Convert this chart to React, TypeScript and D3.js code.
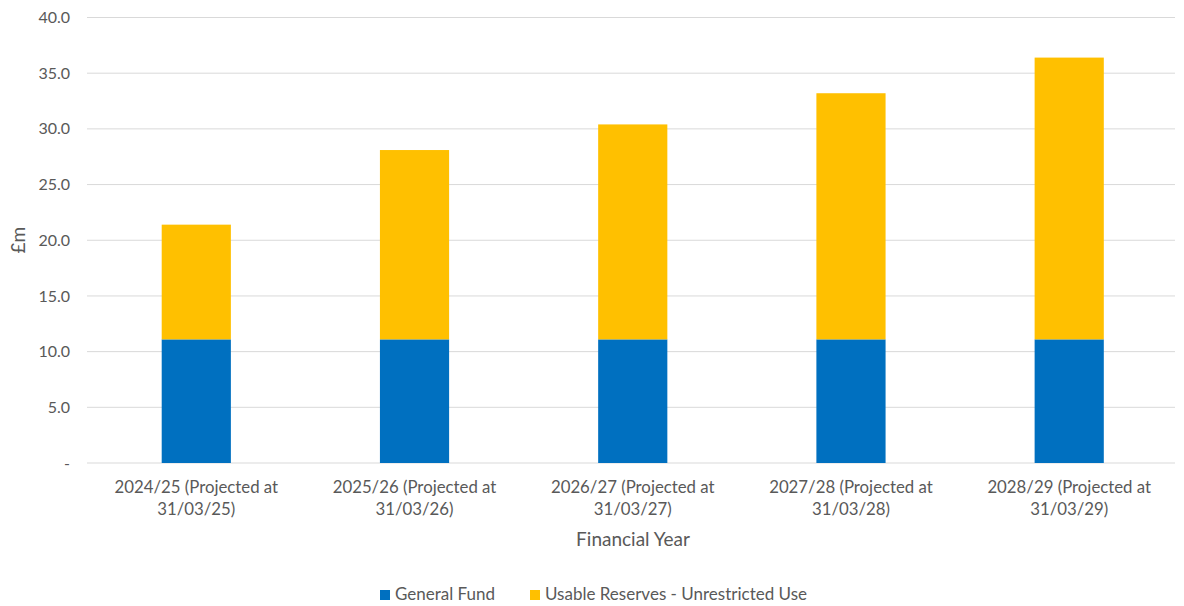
import React, { useEffect, useRef } from "react";
import * as d3 from "d3";

const categories = [
  ["2024/25 (Projected at", "31/03/25)"],
  ["2025/26 (Projected at", "31/03/26)"],
  ["2026/27 (Projected at", "31/03/27)"],
  ["2027/28 (Projected at", "31/03/28)"],
  ["2028/29 (Projected at", "31/03/29)"],
];
const generalFund = [11.1, 11.1, 11.1, 11.1, 11.1];
const usableReserves = [10.3, 17.0, 19.3, 22.1, 25.3];
const yTicks = [0, 5, 10, 15, 20, 25, 30, 35, 40];
const seriesNames = ["General Fund", "Usable Reserves - Unrestricted Use"];
const colors = ["#0070C0", "#FFC000"];

const W = 1184, H = 606;
const M = { left: 87, right: 1175, top: 17.5, bottom: 463 };
const FONT = "Lato, 'Liberation Sans', sans-serif";
const TXT = "#595959";

export default function App() {
  const ref = useRef<SVGSVGElement>(null);
  useEffect(() => {
    const svg = d3.select(ref.current);
    svg.selectAll("*").remove();
    const x = d3.scaleBand<number>().domain(d3.range(categories.length)).range([M.left + 0.5, M.right + 3]).paddingInner(0.683).paddingOuter(0.34);
    const y = d3.scaleLinear().domain([0, 40]).range([M.bottom, M.top]);

    const g = svg.append("g");
    g.selectAll("line.grid").data(yTicks).enter().append("line")
      .attr("x1", M.left).attr("x2", M.right)
      .attr("y1", (d) => y(d)).attr("y2", (d) => y(d))
      .attr("stroke", "#D9D9D9").attr("stroke-width", 1);

    g.selectAll("text.ytick").data(yTicks).enter().append("text")
      .attr("x", 70).attr("y", (d) => y(d)).attr("dy", "0.35em")
      .attr("text-anchor", "end").attr("fill", TXT)
      .style("font-family", FONT).style("font-size", "16px")
      .text((d) => (d === 0 ? "-" : d.toFixed(1)));

    const stacked = d3.stack<number>().keys(["gf", "ur"]).value((i, k) => (k === "gf" ? generalFund[i] : usableReserves[i]))(d3.range(categories.length));
    stacked.forEach((s, si) => {
      g.selectAll(`rect.s${si}`).data(s).enter().append("rect")
        .attr("x", (_d, i) => x(i)!)
        .attr("width", x.bandwidth())
        .attr("y", (d) => y(d[1]))
        .attr("height", (d) => y(d[0]) - y(d[1]))
        .attr("fill", colors[si]);
    });

    categories.forEach((lines, i) => {
      const cx = x(i)! + x.bandwidth() / 2;
      lines.forEach((l, li) => {
        g.append("text").attr("x", cx).attr("y", 493 + li * 22)
          .attr("text-anchor", "middle").attr("fill", TXT)
          .style("font-family", FONT).style("font-size", "16.8px").text(l);
      });
    });

    g.append("text").attr("x", (M.left + M.right) / 2 + 2).attr("y", 546)
      .attr("text-anchor", "middle").attr("fill", TXT)
      .style("font-family", FONT).style("font-size", "19px").text("Financial Year");

    g.append("text").attr("transform", `translate(25,${(M.top + M.bottom) / 2}) rotate(-90)`)
      .attr("text-anchor", "middle").attr("fill", TXT)
      .style("font-family", FONT).style("font-size", "19px").text("£m");

    const legX = [380, 530];
    seriesNames.forEach((n, i) => {
      g.append("rect").attr("x", legX[i]).attr("y", 590).attr("width", 10).attr("height", 10).attr("fill", colors[i]);
      g.append("text").attr("x", legX[i] + 15).attr("y", 600)
        .attr("fill", TXT).style("font-family", FONT).style("font-size", "17px").text(n);
    });
  }, []);
  return <svg ref={ref} width={W} height={H} style={{ position: "absolute", left: 0, top: 0, background: "#fff" }} />;
}
